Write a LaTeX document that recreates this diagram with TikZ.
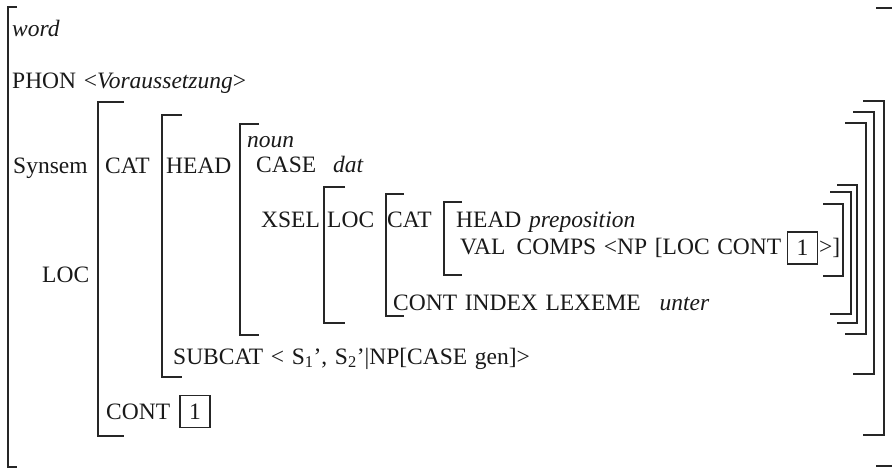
\documentclass[tikz,border=0pt]{standalone}
\usepackage{fontspec}
\setmainfont[WordSpace=1.3]{Liberation Serif}
% opening / closing square brackets of the feature structure:
% #1 = x of the vertical stroke, #2 = top, #3 = bottom, #4 = arm length
\newcommand\fsopen[4]{\draw[brk] (#1+#4,#2) -- (#1,#2) -- (#1,#3) -- (#1+#4,#3);}
\newcommand\fsclose[4]{\draw[brk] (#1-#4,#2) -- (#1,#2) -- (#1,#3) -- (#1-#4,#3);}
\begin{document}
\begin{tikzpicture}[x=1pt,y=-1pt,
  brk/.style={draw=black!85, line width=2.3pt},
  lbl/.style={anchor=base west, inner sep=0pt, text=black!90, font=\fontsize{23.5}{28}\selectfont},
  tagbox/.style={draw=black!85, line width=1.8pt, minimum width=30pt, minimum height=32pt,
                 inner sep=0pt, text=black!90, font=\fontsize{23.5}{28}\selectfont}]
\useasboundingbox (0,0) rectangle (892,469);

% ---- brackets, outermost first ----
\fsopen{8}{7}{467}{9}
\fsclose{893}{8}{466}{17}
\fsopen{98}{102}{436}{26}
\fsclose{884}{101}{435}{21}
\fsopen{162}{115}{377}{20}
\fsclose{874}{112}{374}{21}
\fsopen{240}{124}{335}{19}
\fsclose{866}{123}{334}{21}
\fsopen{324}{187}{323}{21}
\fsclose{857}{185}{323}{20}
\fsopen{386}{194}{316}{18}
\fsclose{851}{192}{314}{21}
\fsopen{444}{202}{275}{18}
\fsclose{843}{204}{276}{20}

% ---- outer level ----
\node[lbl] (word) at (12,36) {\itshape word};
\node[lbl] (phon) at (12,88) {PHON <\textit{Voraussetzung}>};
\node[lbl] (synsem) at (13,173) {Synsem};
\node[lbl] (loc) at (42,282) {LOC};

% ---- synsem value ----
\node[lbl] (cat) at (105,173) {CAT};
\node[lbl] (cont) at (106,419) {CONT};
\node[tagbox] (tagA) at (195,411.5) {1};

% ---- cat value ----
\node[lbl] (head) at (166,173) {HEAD};
\node[lbl] (subcat) at (173,364) {SUBCAT < S\textsubscript{1}’, S\textsubscript{2}’|NP[CASE gen]>};

% ---- head value ----
\node[lbl] (noun) at (247,147) {\itshape noun};
\node[lbl] (case) at (256,172) {CASE};
\node[lbl] (dat) at (333,172) {\itshape dat};
\node[lbl] (xsel) at (261,227) {XSEL};

% ---- xsel value ----
\node[lbl] (xloc) at (327,227) {LOC};
\node[lbl] (xcat) at (387,227) {CAT};
\node[lbl] (phead) at (456,227) {HEAD \textit{preposition}};
\node[lbl] (val) at (460,254) {VAL\hspace{0.15em} COMPS <NP [LOC CONT};
\node[tagbox] (tagB) at (802.5,248) {1};
\node[lbl] (close) at (819,254) {>]};
\node[lbl] (xcont) at (393,310) {CONT INDEX LEXEME\hspace{0.8em}\textit{unter}};
\end{tikzpicture}
\end{document}
